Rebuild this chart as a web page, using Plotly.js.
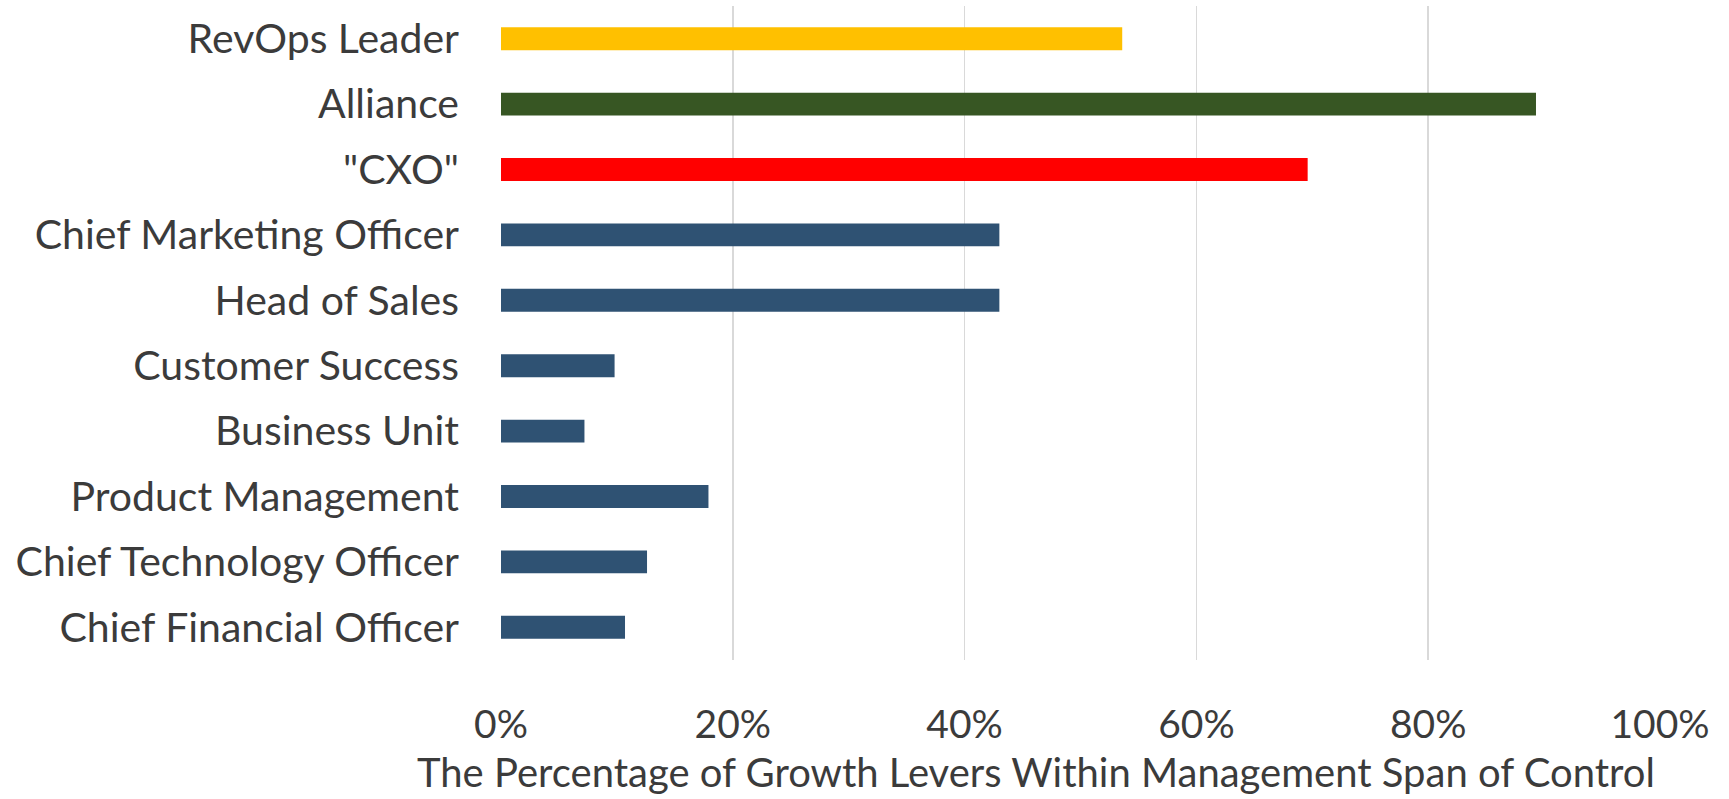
<!DOCTYPE html>
<html>
<head>
<meta charset="utf-8">
<script src="https://cdn.plot.ly/plotly-3.0.1.min.js"></script>
<style>html,body{margin:0;padding:0;background:#fff;}#chart{width:1729px;height:799px;}</style>
</head>
<body>
<div id="chart"></div>
<script>
const categories = ["RevOps Leader", "Alliance", "\"CXO\"", "Chief Marketing Officer", "Head of Sales", "Customer Success", "Business Unit", "Product Management", "Chief Technology Officer", "Chief Financial Officer"];
const values = [0.536, 0.893, 0.696, 0.430, 0.430, 0.098, 0.072, 0.179, 0.126, 0.107];
const barColors = ["#FFC000", "#375623", "#FF0000", "#2F5273", "#2F5273", "#2F5273", "#2F5273", "#2F5273", "#2F5273", "#2F5273"];
const tickValues = [0, 0.2, 0.4, 0.6, 0.8, 1.0];
const tickLabels = ["0%", "20%", "40%", "60%", "80%", "100%"];
const xTitle = "The Percentage of Growth Levers Within Management Span of Control";

const fontFamily = "Lato, 'Open Sans', sans-serif";
const textColor = "#3B3B3B";

Plotly.newPlot("chart", [{
  type: "bar",
  orientation: "h",
  y: categories,
  x: values,
  marker: {color: barColors, line: {width: 0}},
  hoverinfo: "x+y"
}], {
  width: 1729,
  height: 799,
  margin: {l: 501, r: 69, t: 6, b: 139, pad: 0},
  paper_bgcolor: "#fff",
  plot_bgcolor: "#fff",
  bargap: 0.65,
  showlegend: false,
  font: {family: fontFamily, color: textColor, size: 40},
  xaxis: {
    range: [0, 1],
    tickvals: tickValues,
    ticktext: tickLabels,
    showgrid: true,
    gridcolor: "#D9D9D9",
    gridwidth: 1.5,
    zeroline: false,
    showline: false,
    ticks: "",
    ticklabelstandoff: 38,
    tickfont: {family: fontFamily, size: 39, color: textColor},
    fixedrange: true
  },
  yaxis: {
    type: "category",
    categoryorder: "array",
    categoryarray: categories,
    autorange: "reversed",
    showgrid: false,
    zeroline: false,
    showline: false,
    ticks: "",
    ticklabelstandoff: 41,
    tickfont: {family: fontFamily, size: 41, color: textColor},
    fixedrange: true
  },
  annotations: [{
    text: xTitle,
    xref: "paper", yref: "paper",
    x: 0.4616, y: 0,
    xanchor: "center", yanchor: "middle",
    yshift: -112,
    borderpad: 0,
    showarrow: false,
    font: {family: fontFamily, size: 40, color: textColor}
  }]
}, {displayModeBar: false, staticPlot: true});
</script>
</body>
</html>
